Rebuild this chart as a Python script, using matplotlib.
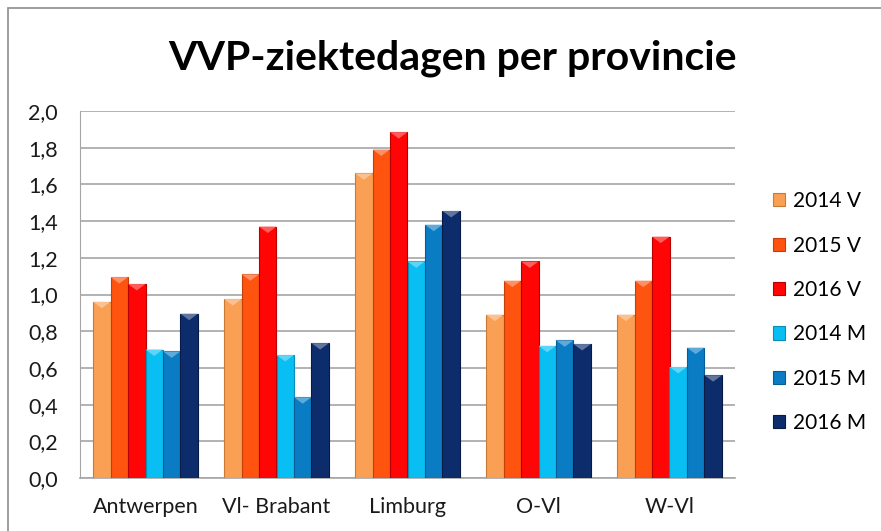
import matplotlib.pyplot as plt
import matplotlib.patches as mpatches
from matplotlib.colors import to_rgb
from matplotlib.ticker import FuncFormatter
import numpy as np

plt.rcParams['font.family'] = ['Lato', 'DejaVu Sans']

provinces = ['Antwerpen', 'Vl- Brabant', 'Limburg', 'O-Vl', 'W-Vl']
series_names = ['2014 V', '2015 V', '2016 V', '2014 M', '2015 M', '2016 M']
v2014 = [0.96, 0.975, 1.66, 0.89, 0.89]
v2015 = [1.095, 1.11, 1.79, 1.075, 1.075]
v2016 = [1.057, 1.37, 1.885, 1.18, 1.315]
m2014 = [0.70, 0.67, 1.18, 0.72, 0.605]
m2015 = [0.69, 0.44, 1.38, 0.75, 0.71]
m2016 = [0.895, 0.735, 1.455, 0.73, 0.56]
series_values = [v2014, v2015, v2016, m2014, m2015, m2016]

colors = ['#F9A055', '#FF5310', '#FF0505', '#08BEF2', '#0A7CC4', '#0C2C6C']
edges = ['#C97A35', '#C83E08', '#B80000', '#0690B8', '#075C94', '#061A45']


def lighten(c, amt=0.35):
    r, g, b = to_rgb(c)
    return (r + (1 - r) * amt, g + (1 - g) * amt, b + (1 - b) * amt)


fig = plt.figure(figsize=(8.81, 5.31), dpi=100)
ax = fig.add_axes([80 / 881, 53 / 531, 655 / 881, 367 / 531])

# chart frame (only top and left visible in the crop)
fig.patches.append(mpatches.Rectangle((8 / 881, -0.1), 1.2, 1 - 8 / 531 + 0.1,
                                      transform=fig.transFigure, fill=False,
                                      edgecolor='#8c8c8c', linewidth=1.2))

x = np.arange(len(provinces))
width = 0.8 / len(series_names)
for i, (name, vals) in enumerate(zip(series_names, series_values)):
    offs = (i - (len(series_names) - 1) / 2) * width
    bars = ax.bar(x + offs, vals, width, color=colors[i], edgecolor=edges[i],
                  linewidth=0.8, label=name, zorder=3)
    # little bevel chevron at the top of each bar
    for b in bars:
        bx, bw, bh = b.get_x(), b.get_width(), b.get_height()
        tri = mpatches.Polygon([(bx, bh), (bx + bw, bh), (bx + bw / 2, bh - 0.035)],
                               closed=True, facecolor=lighten(colors[i]),
                               edgecolor='none', zorder=4)
        ax.add_patch(tri)

ax.set_xlim(-0.5, len(provinces) - 0.5)
ax.set_ylim(0, 2.0)
ax.set_yticks(np.arange(0, 2.01, 0.2))
ax.yaxis.set_major_formatter(FuncFormatter(lambda v, p: f'{v:.1f}'.replace('.', ',')))
ax.set_xticks(x)
ax.set_xticklabels(provinces)
ax.tick_params(axis='both', length=0, labelsize=15.5, colors='#1a1a1a')
ax.tick_params(axis='y', pad=16)
ax.tick_params(axis='x', pad=14)
ax.grid(axis='y', color='#a6a6a6', linewidth=1.2, zorder=0)
for s in ['top', 'right']:
    ax.spines[s].set_visible(False)
ax.spines['left'].set_color('#a6a6a6')
ax.spines['bottom'].set_color('#a6a6a6')
ax.spines['bottom'].set_linewidth(1.2)

fig.text(452 / 881, 1 - 58 / 531, 'VVP-ziektedagen per provincie',
         ha='center', va='center', fontsize=29.5, fontweight='bold')

ax.legend(loc='center left', bbox_to_anchor=(1.058, 0.452), frameon=False,
          fontsize=15, handlelength=0.6, handleheight=0.6, handletextpad=0.35,
          labelspacing=1.17, borderaxespad=0, borderpad=0)

fig.savefig('out.png', dpi=100)
